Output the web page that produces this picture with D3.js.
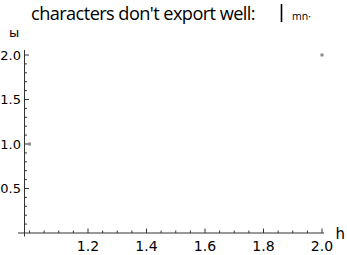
<!DOCTYPE html>
<html>
<head>
<meta charset="utf-8">
<script src="https://cdn.jsdelivr.net/npm/d3@7"></script>
<style>
  body { margin: 0; background: #fff; }
  text { font-family: "DejaVu Sans", sans-serif; fill: #000; }
</style>
</head>
<body>
<script>
// data points
const xs = [1, 2];
const ys = [1, 2];
const xTicks = [1.2, 1.4, 1.6, 1.8, 2.0];
const yTicks = [0.5, 1.0, 1.5, 2.0];
const xLabel = 'h';
const yLabel = 'ы';

const width = 347, height = 255;

const svg = d3.select('body')
    .append('svg')
    .attr('width', width)
    .attr('height', height);

// scales
const x = d3.scaleLinear().domain([1, 2]).range([29.5, 322]);
const y = d3.scaleLinear().domain([0, 2]).range([233, 55]);

// title (the broken export glyphs kept as they appear)
svg.append('text')
    .attr('x', 31)
    .attr('y', 19.5)
    .style('font-family', '"Open Sans", sans-serif')
    .style('font-size', '19px')
    .style('letter-spacing', '-0.6px')
    .attr('textLength', 224)
    .attr('lengthAdjust', 'spacingAndGlyphs')
    .text("characters don't export well:");
svg.append('line')
    .attr('x1', 281.5).attr('x2', 281.5)
    .attr('y1', 4).attr('y2', 22)
    .attr('stroke', '#000').attr('stroke-width', 1.6);
svg.append('text')
    .attr('x', 292).attr('y', 19.5)
    .style('font-family', '"Open Sans", sans-serif')
    .style('font-size', '10.5px')
    .text('mn·');

// axes lines
const axisColor = '#333';
svg.append('line')
    .attr('x1', 18).attr('x2', 324)
    .attr('y1', y(0)).attr('y2', y(0))
    .attr('stroke', axisColor).attr('stroke-width', 1);
svg.append('line')
    .attr('x1', 24.5).attr('x2', 24.5)
    .attr('y1', 50).attr('y2', 236.5)
    .attr('stroke', axisColor).attr('stroke-width', 1);

// x ticks: majors every 0.2, minors every 0.05
const xMinor = d3.range(0, 21).map(i => 1 + i * 0.05);
svg.append('g')
    .selectAll('line')
    .data(xMinor)
    .join('line')
    .attr('x1', d => x(d)).attr('x2', d => x(d))
    .attr('y1', y(0))
    .attr('y2', d => xTicks.some(t => Math.abs(t - d) < 1e-6) ? y(0) - 4.5 : y(0) - 2.5)
    .attr('stroke', axisColor).attr('stroke-width', 1);

svg.append('g')
    .selectAll('text')
    .data(xTicks)
    .join('text')
    .attr('x', d => x(d))
    .attr('y', 251)
    .attr('text-anchor', 'middle')
    .style('font-size', '14px')
    .text(d => d.toFixed(1));

// y ticks: majors every 0.5, minors every 0.1
const yMinor = d3.range(1, 21).map(i => i * 0.1);
svg.append('g')
    .selectAll('line')
    .data(yMinor)
    .join('line')
    .attr('x1', 24.5)
    .attr('x2', d => yTicks.some(t => Math.abs(t - d) < 1e-6) ? 29 : 27)
    .attr('y1', d => y(d)).attr('y2', d => y(d))
    .attr('stroke', axisColor).attr('stroke-width', 1);

svg.append('g')
    .selectAll('text')
    .data(yTicks)
    .join('text')
    .attr('x', 21)
    .attr('y', d => y(d) + 4.5)
    .attr('text-anchor', 'end')
    .style('font-size', '13px')
    .text(d => d.toFixed(1));

// axis labels
svg.append('text')
    .attr('x', 335.5).attr('y', 239)
    .style('font-size', '15px')
    .text(xLabel);
svg.append('text')
    .attr('x', 9).attr('y', 37)
    .style('font-size', '13px')
    .text(yLabel);

// points
svg.append('g')
    .selectAll('rect')
    .data(xs.map((d, i) => [d, ys[i]]))
    .join('rect')
    .attr('x', d => x(d[0]) - 1.5)
    .attr('y', d => y(d[1]) - 1.5)
    .attr('width', 3).attr('height', 3)
    .attr('fill', '#8a8a8a');
</script>
</body>
</html>
